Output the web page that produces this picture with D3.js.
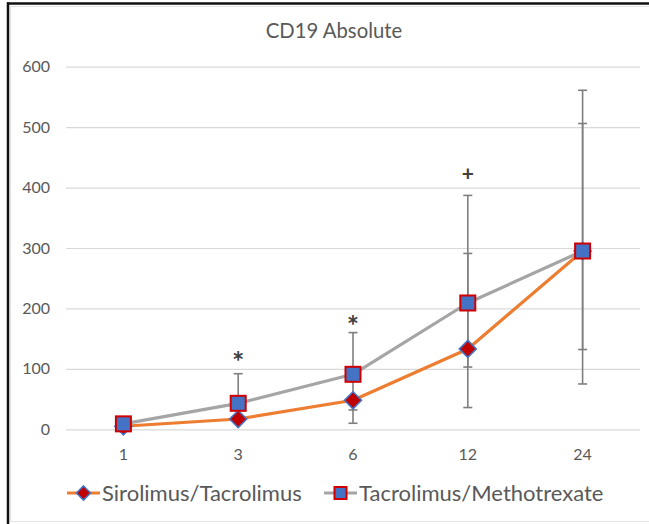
<!DOCTYPE html>
<html>
<head>
<meta charset="utf-8">
<script src="https://cdn.jsdelivr.net/npm/d3@7/dist/d3.min.js"></script>
<style>
  html, body { margin: 0; padding: 0; background: #fff; }
  svg { display: block; }
  text { font-family: Lato, "Open Sans", sans-serif; }
</style>
</head>
<body>
<svg id="chart" width="649" height="524"></svg>
<script>
// Months after transplant
const months = ["1", "3", "6", "12", "24"];

// Mean CD19 absolute counts per group
const sirolimusTac = [5, 17, 48, 133, 295];
const tacMtx = [9, 43, 91, 209, 295];

// Error bar ends (null = no bar shown)
const sirolimusLow = [null, null, 10, 103, 132];
const sirolimusHigh = [null, null, null, 291, 506];
const tacMtxLow = [null, null, 32, 36, 75];
const tacMtxHigh = [null, 92, 160, 387, 561];

// Significance markers and the value they are centred on
const sigMarks = ["", "*", "*", "+", ""];
const sigAt = [null, 123, 182, 424, null];

const yTicks = [0, 100, 200, 300, 400, 500, 600];
const seriesNames = ["Sirolimus/Tacrolimus", "Tacrolimus/Methotrexate"];

const svg = d3.select("#chart");
const W = 649, H = 524;

// Frame
svg.append("rect").attr("x", 10.5).attr("y", 6.5).attr("width", 640).attr("height", 515)
  .attr("fill", "#fff").attr("stroke", "#e4e4e4").attr("stroke-width", 1);
svg.append("line").attr("x1", 7).attr("x2", W).attr("y1", 3.5).attr("y2", 3.5)
  .attr("stroke", "#111").attr("stroke-width", 2.5);
svg.append("line").attr("x1", 8).attr("x2", 8).attr("y1", 2.3).attr("y2", H)
  .attr("stroke", "#111").attr("stroke-width", 2.5);

const x = d3.scaleBand().domain(months).range([66, 640]).padding(0);
const y = d3.scaleLinear().domain([0, 600]).range([429.3, 66.7]);
const cx = m => x(m) + x.bandwidth() / 2;

// Title
svg.append("text").attr("x", 334).attr("y", 38).attr("text-anchor", "middle")
  .attr("font-size", 20.3).attr("fill", "#595959").text("CD19 Absolute");

// Gridlines + y labels
const yAxis = d3.axisLeft(y).tickValues(yTicks).tickSize(-(640 - 66)).tickPadding(16);
const gy = svg.append("g").attr("transform", "translate(66,0)").call(yAxis);
gy.select(".domain").remove();
gy.selectAll(".tick line").attr("stroke", "#d9d9d9").attr("stroke-width", 1.2);
gy.selectAll(".tick text").attr("font-size", 16).attr("fill", "#595959")
  .attr("font-family", "Lato, sans-serif");

// x labels
const xAxis = d3.axisBottom(x).tickSize(0).tickPadding(0);
const gx = svg.append("g").attr("transform", "translate(0,449)").call(xAxis);
gx.select(".domain").remove();
gx.selectAll(".tick text").attr("font-size", 16).attr("fill", "#595959")
  .attr("font-family", "Lato, sans-serif").attr("dy", "0.71em");

// Lines
const line = d3.line().x((d, i) => cx(months[i])).y(d => y(d));
svg.append("path").datum(tacMtx).attr("d", line).attr("fill", "none")
  .attr("stroke", "#a5a5a5").attr("stroke-width", 3.2).attr("stroke-linejoin", "round");
svg.append("path").datum(sirolimusTac).attr("d", line).attr("fill", "none")
  .attr("stroke", "#ed7d31").attr("stroke-width", 3.2).attr("stroke-linejoin", "round");

// Error bars
function errorBars(mean, lows, highs) {
  const g = svg.append("g").attr("stroke", "#7f7f7f").attr("stroke-width", 1.6);
  months.forEach((m, i) => {
    const xc = cx(m);
    [lows[i], highs[i]].forEach(end => {
      if (end == null) return;
      g.append("line").attr("x1", xc).attr("x2", xc).attr("y1", y(mean[i])).attr("y2", y(end));
      g.append("line").attr("x1", xc - 4.5).attr("x2", xc + 4.5).attr("y1", y(end)).attr("y2", y(end));
    });
  });
}
errorBars(sirolimusTac, sirolimusLow, sirolimusHigh);
errorBars(tacMtx, tacMtxLow, tacMtxHigh);

// Markers
const diamond = (g, xc, yc, r) => g.append("path")
  .attr("d", `M${xc},${yc - r}L${xc + r},${yc}L${xc},${yc + r}L${xc - r},${yc}Z`)
  .attr("fill", "#c00000").attr("stroke", "#4472c4").attr("stroke-width", 1.6);
const square = (g, xc, yc, s) => g.append("rect")
  .attr("x", xc - s / 2).attr("y", yc - s / 2).attr("width", s).attr("height", s)
  .attr("fill", "#4472c4").attr("stroke", "#d00000").attr("stroke-width", 2);

const gm = svg.append("g");
sirolimusTac.forEach((v, i) => diamond(gm, cx(months[i]), y(v), 8.5));
tacMtx.forEach((v, i) => square(gm, cx(months[i]), y(v), 15));

// Significance markers (glyph centre sits at the given value)
sigMarks.forEach((s, i) => {
  if (!s) return;
  const star = s === "*";
  svg.append("text").attr("x", cx(months[i])).attr("y", y(sigAt[i]) + (star ? 17 : 8))
    .attr("text-anchor", "middle").attr("font-family", "DejaVu Sans, sans-serif")
    .attr("font-size", star ? 29 : 21).attr("font-weight", "bold")
    .attr("fill", "#404040").text(s);
});

// Legend
const lg = svg.append("g");
const legendY = 493;
const items = [
  { x: 67, color: "#ed7d31", mark: "d" },
  { x: 324, color: "#a5a5a5", mark: "s" }
];
items.forEach((it, k) => {
  lg.append("line").attr("x1", it.x).attr("x2", it.x + 33).attr("y1", legendY).attr("y2", legendY)
    .attr("stroke", it.color).attr("stroke-width", 3.2);
  if (it.mark === "d") diamond(lg, it.x + 16.5, legendY, 7);
  else square(lg, it.x + 16.5, legendY, 12);
  lg.append("text").attr("x", it.x + 35).attr("y", legendY).attr("dy", "0.35em")
    .attr("font-size", 22).attr("fill", "#595959").text(seriesNames[k]);
});
</script>
</body>
</html>
